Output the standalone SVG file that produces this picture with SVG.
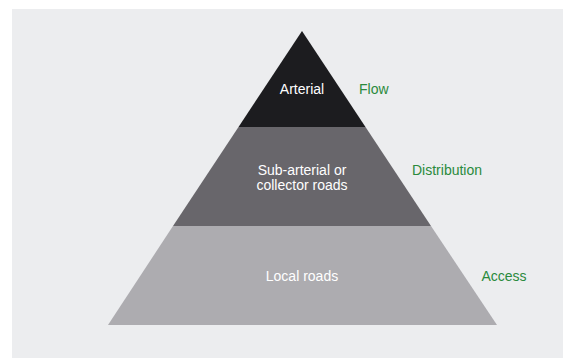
<svg xmlns="http://www.w3.org/2000/svg" width="565" height="358" viewBox="0 0 565 358">
<style>
.lbl{font-family:"Liberation Sans",Arial,sans-serif;font-size:14px;fill:#ffffff;text-anchor:middle}
.side{font-family:"Liberation Sans",Arial,sans-serif;font-size:14px;fill:#2a8a3c}
</style>
<rect x="0" y="0" width="565" height="358" fill="#ffffff"/>
<rect x="12" y="9" width="551" height="349" fill="#ecedef"/>
<g id="tier-arterial">
<polygon points="302,31 365.5,127 238.5,127" fill="#1c1c1f"/>
<text class="lbl" x="302" y="94">Arterial</text>
</g>
<g id="tier-collector">
<polygon points="238.5,127 365.5,127 431,226 173,226" fill="#68666b"/>
<text class="lbl" x="302" y="175">Sub-arterial or</text>
<text class="lbl" x="302" y="189.5">collector roads</text>
</g>
<g id="tier-local">
<polygon points="173,226 431,226 497,325 108,325" fill="#adacb0"/>
<text class="lbl" x="302" y="281">Local roads</text>
</g>
<g id="label-flow"><text class="side" x="359" y="94">Flow</text></g>
<g id="label-distribution"><text class="side" x="412" y="175">Distribution</text></g>
<g id="label-access"><text class="side" x="481.5" y="281">Access</text></g>
<g id="connectors"></g>
</svg>
